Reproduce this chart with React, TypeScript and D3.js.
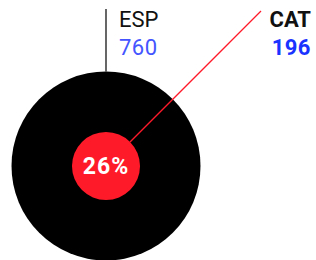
import React, { useEffect, useRef } from 'react';
import * as d3 from 'd3';

const labels = ['ESP', 'CAT'];
const values = [760, 196];
const share = '26%';

const width = 316;
const height = 260;

export default function App() {
  const svgRef = useRef<SVGSVGElement>(null);

  useEffect(() => {
    const svg = d3.select(svgRef.current);
    svg.selectAll('*').remove();

    const cx = 106;
    const cy = 166;
    const r = d3.scalePow().exponent(0.754).domain([0, values[0]]).range([0, 94.5]);
    const font = 'Roboto, "DejaVu Sans", sans-serif';

    // big circle (ESP)
    svg.append('circle')
      .attr('cx', cx).attr('cy', cy).attr('r', r(values[0]))
      .attr('fill', '#000');

    // leader line ESP
    svg.append('line')
      .attr('x1', cx).attr('x2', cx)
      .attr('y1', cy - r(values[0])).attr('y2', 9)
      .attr('stroke', '#000').attr('stroke-width', 1.2);

    // small circle (CAT)
    const rs = r(values[1]);
    svg.append('circle')
      .attr('cx', cx).attr('cy', cy).attr('r', rs)
      .attr('fill', '#ff1a2a');

    // leader line CAT at 45 degrees
    const a = Math.PI / 4;
    const x1 = cx + rs * Math.cos(a);
    const y1 = cy - rs * Math.sin(a);
    const y2 = 11;
    const x2 = x1 + (y1 - y2);
    svg.append('line')
      .attr('x1', x1).attr('y1', y1).attr('x2', x2).attr('y2', y2)
      .attr('stroke', '#ff1a2a').attr('stroke-width', 1.3);

    svg.append('text')
      .attr('x', cx).attr('y', cy + 8)
      .attr('text-anchor', 'middle')
      .attr('font-family', font).attr('font-weight', 'bold').attr('font-size', 23)
      .attr('letter-spacing', 1)
      .attr('fill', '#fff')
      .text(share);

    // labels
    const lab = [
      { x: 119, anchor: 'start', weight: 'normal' },
      { x: 311, anchor: 'end', weight: 'bold' },
    ];
    labels.forEach((name, i) => {
      svg.append('text')
        .attr('x', lab[i].x).attr('y', 27)
        .attr('text-anchor', lab[i].anchor)
        .attr('font-family', font).attr('font-weight', lab[i].weight).attr('font-size', 22)
        .attr('fill', '#111')
        .text(name);
      svg.append('text')
        .attr('x', lab[i].x).attr('y', 55)
        .attr('text-anchor', lab[i].anchor)
        .attr('font-family', font).attr('font-weight', lab[i].weight).attr('font-size', 22)
        .attr('letter-spacing', 0.5)
        .attr('fill', i === 0 ? '#4455ff' : '#1a33ff')
        .text(values[i]);
    });
  }, []);

  return (
    <svg ref={svgRef} width={width} height={height}
         style={{ position: 'absolute', left: 0, top: 0, display: 'block' }} />
  );
}
